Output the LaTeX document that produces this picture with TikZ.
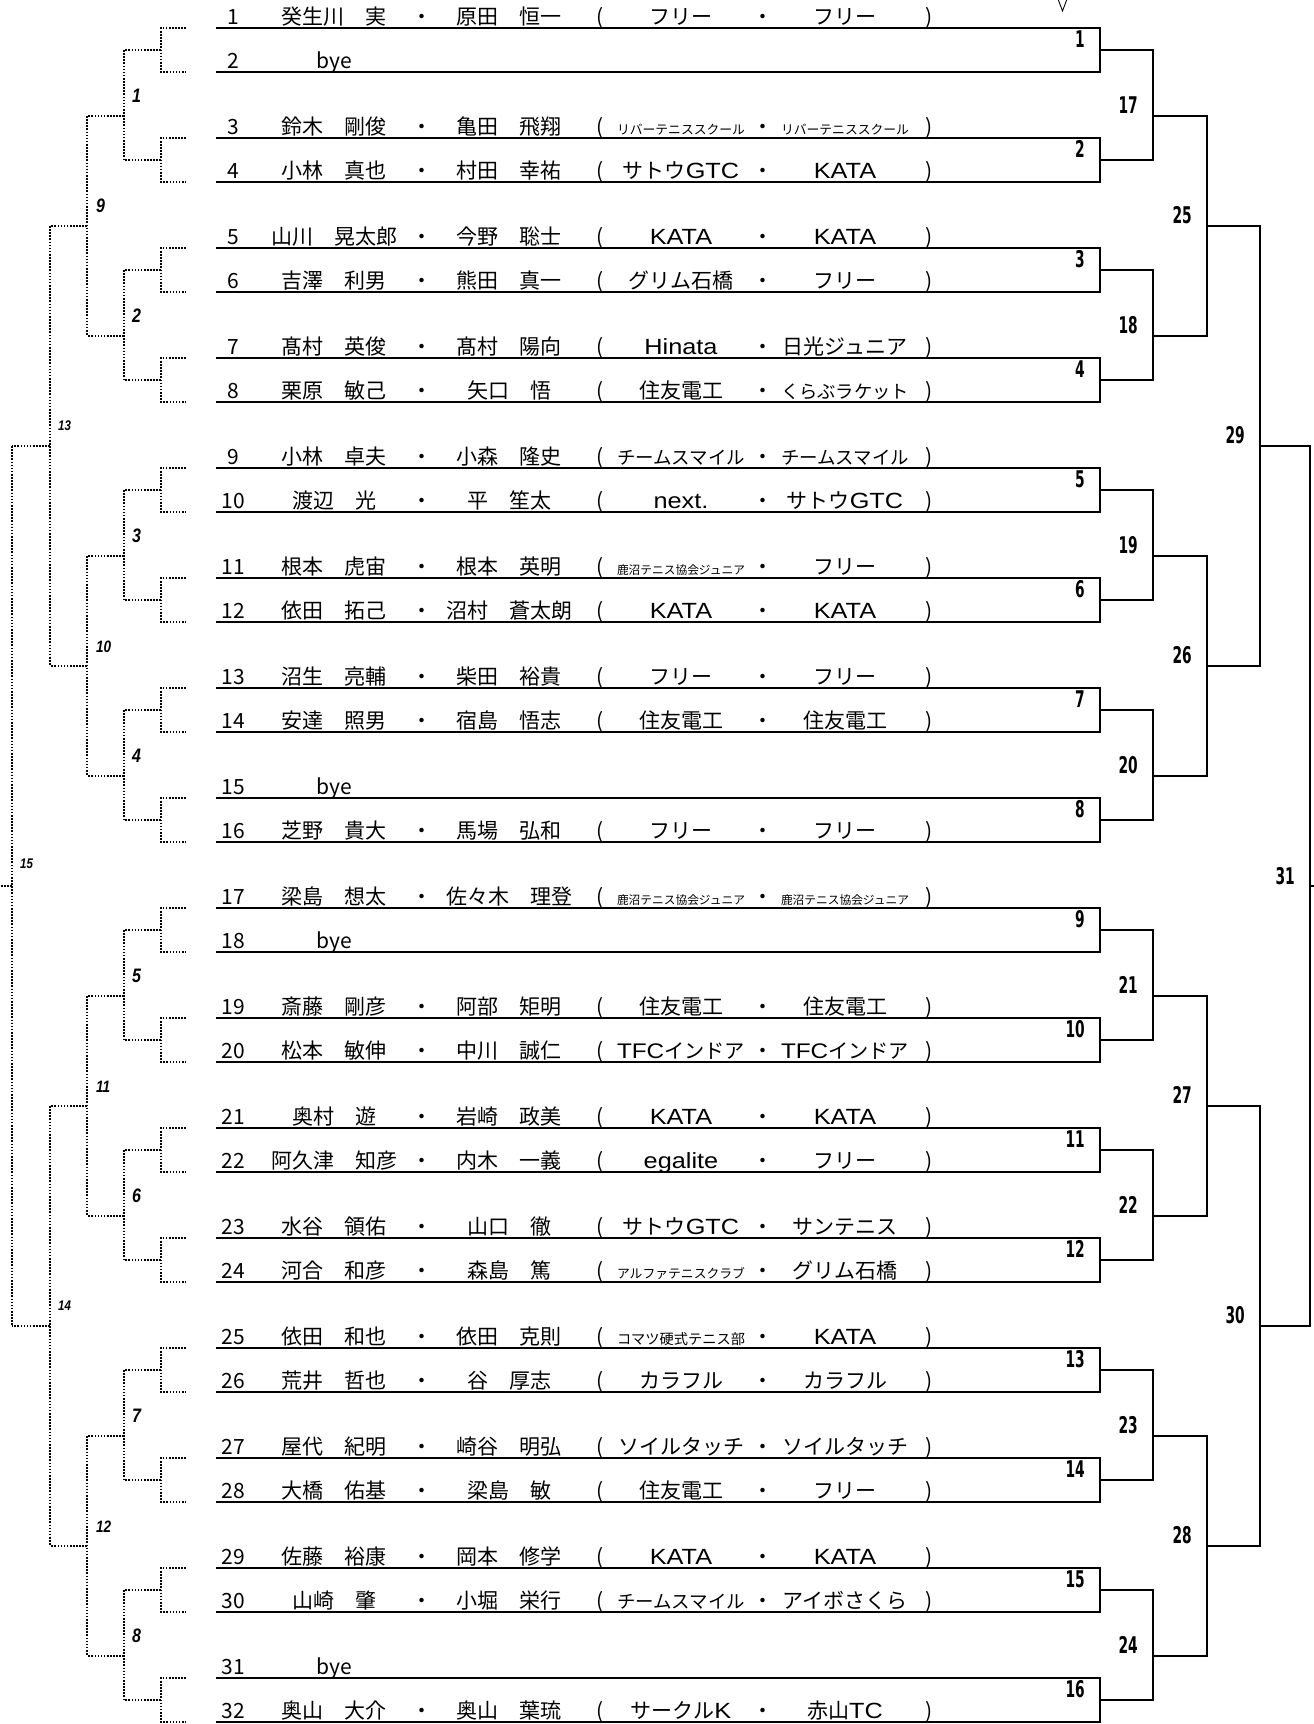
\documentclass[tikz,border=0pt]{standalone}
\usepackage{fontspec}
\setmainfont{Noto Sans CJK JP}
\newfontfamily\rdfont{DejaVu Sans}
\newfontfamily\lbfont{Liberation Sans}
\newfontfamily\latf{Liberation Sans}
\newcommand\lat[1]{{\latf\fontsize{22}{25}\selectfont\scalebox{1.15}[1]{#1}}}
\newlength\clubw
\newcommand\club[1]{\settowidth\clubw{#1}\ifdim\clubw>128pt\relax\resizebox{128pt}{!}{#1}\else#1\fi}
\tikzset{
  rt/.style={anchor=base, inner sep=0pt, font=\fontsize{21}{25}\selectfont},
  brk/.style={line width=2.5pt, line cap=rect},
  dotln/.style={line width=1.6pt, dash pattern=on 1.6pt off 1.5pt},
  rlab/.style={anchor=base east, inner sep=0pt, font=\rdfont\bfseries\fontsize{23}{23}\selectfont},
  llab/.style={anchor=base west, inner sep=0pt, font=\lbfont\bfseries\itshape}
}
\newcommand\prow[5]{%
  \pgfmathsetmacro\yy{28+22*(5*floor((#1-1)/2)+2*mod(#1-1,2))-4}%
  \node[rt] (num#1) at (233,\yy) {#1};
  \node[rt] (na#1) at (334,\yy) {#2};
  \node[rt] (da#1) at (421.5,\yy) {・};
  \node[rt] (nb#1) at (509,\yy) {#3};
  \node[rt] (lp#1) at (600,\yy) {(};
  \node[rt] (ca#1) at (681,\yy) {\club{#4}};
  \node[rt] (db#1) at (763,\yy) {・};
  \node[rt] (cb#1) at (845,\yy) {\club{#5}};
  \node[rt] (rp#1) at (929,\yy) {)};
}
\newcommand\byerow[1]{%
  \pgfmathsetmacro\yy{28+22*(5*floor((#1-1)/2)+2*mod(#1-1,2))-4}%
  \node[rt] (num#1) at (233,\yy) {#1};
  \node[rt] (na#1) at (334,\yy) {bye};
}
\begin{document}
\begin{tikzpicture}[x=1pt,y=-1pt]
\useasboundingbox (0,0) rectangle (1314,1724);
% ---------- first round: boxes (right) and dotted stubs (left)
\foreach \k in {1,...,16}{
  \pgfmathsetmacro\ya{28+110*(\k-1)}
  \pgfmathsetmacro\yb{\ya+44}
  \pgfmathsetmacro\ym{\ya+22}
  \draw[brk] (217,\ya) -- (1100,\ya) -- (1100,\yb) -- (217,\yb);
  \draw[brk] (1100,\ym) -- (1153,\ym);
  \node[rlab] (r1l\k) at (1085,\ym-3) {\scalebox{0.6}[1]{\k}};
  \draw[dotln] (186,\ya) -- (161,\ya) -- (161,\yb) -- (186,\yb);
  \draw[dotln] (161,\ym) -- (124,\ym);
}
% ---------- second round
\foreach \g in {1,...,8}{
  \pgfmathsetmacro\ta{50+220*(\g-1)}
  \pgfmathsetmacro\tb{\ta+110}
  \pgfmathsetmacro\to{\ta+66}
  \pgfmathtruncatemacro\lab{16+\g}
  \draw[brk] (1153,\ta) -- (1153,\tb);
  \draw[brk] (1153,\to) -- (1207,\to);
  \node[rlab] (r2l\g) at (1138,\to-3) {\scalebox{0.6}[1]{\lab}};
  \draw[dotln] (124,\ta) -- (124,\tb);
  \draw[dotln] (124,\to) -- (87,\to);
  \node[llab] (l2l\g) at (132,\to-14) {\fontsize{19.5}{20}\selectfont\scalebox{0.82}[1]{\g}};
}
% ---------- third round
\foreach \h in {1,...,4}{
  \pgfmathsetmacro\ta{116+440*(\h-1)}
  \pgfmathsetmacro\tb{\ta+220}
  \pgfmathsetmacro\to{\ta+110}
  \pgfmathtruncatemacro\lab{24+\h}
  \pgfmathtruncatemacro\labl{8+\h}
  \draw[brk] (1207,\ta) -- (1207,\tb);
  \draw[brk] (1207,\to) -- (1260,\to);
  \node[rlab] (r3l\h) at (1192,\to-3) {\scalebox{0.6}[1]{\lab}};
  \draw[dotln] (87,\ta) -- (87,\tb);
  \draw[dotln] (87,\to) -- (50,\to);
  \ifnum\labl=9
    \node[llab] (l3l\h) at (96,\to-14) {\fontsize{19.5}{20}\selectfont\scalebox{0.82}[1]{\labl}};
  \else
    \node[llab] (l3l\h) at (96,\to-14) {\fontsize{16.5}{17}\selectfont\scalebox{0.82}[1]{\labl}};
  \fi
}
% ---------- fourth round
\foreach \m in {1,2}{
  \pgfmathsetmacro\ta{226+880*(\m-1)}
  \pgfmathsetmacro\tb{\ta+440}
  \pgfmathsetmacro\to{\ta+220}
  \pgfmathtruncatemacro\lab{28+\m}
  \pgfmathtruncatemacro\labl{12+\m}
  \draw[brk] (1260,\ta) -- (1260,\tb);
  \draw[brk] (1260,\to) -- (1310,\to);
  \node[rlab] (r4l\m) at (1245,\to-3) {\scalebox{0.6}[1]{\lab}};
  \draw[dotln] (50,\ta) -- (50,\tb);
  \draw[dotln] (50,\to) -- (12,\to);
  \node[llab] (l4l\m) at (58,\to-16) {\fontsize{14}{15}\selectfont\scalebox{0.82}[1]{\labl}};
}
% ---------- final
\draw[brk] (1310,446) -- (1310,1326);
\draw[brk] (1310,886) -- (1314,886);
\node[rlab] (r5l) at (1295,884) {\scalebox{0.6}[1]{31}};
\draw[dotln] (12,446) -- (12,1326);
\draw[dotln] (12,886) -- (0,886);
\node[llab] (l5l) at (20,868) {\fontsize{14}{15}\selectfont\scalebox{0.82}[1]{15}};
% ---------- partial mark at top
\draw[line width=0.9pt] (1058,-1) -- (1062.5,11) -- (1067,-1);
% ---------- entries
\prow{1}{癸生川　実}{原田　恒一}{フリー}{フリー}
\byerow{2}
\prow{3}{鈴木　剛俊}{亀田　飛翔}{リバーテニススクール}{リバーテニススクール}
\prow{4}{小林　真也}{村田　幸祐}{サトウ\lat{GTC}}{\lat{KATA}}
\prow{5}{山川　晃太郎}{今野　聡士}{\lat{KATA}}{\lat{KATA}}
\prow{6}{吉澤　利男}{熊田　真一}{グリム石橋}{フリー}
\prow{7}{髙村　英俊}{髙村　陽向}{\lat{Hinata}}{日光ジュニア}
\prow{8}{栗原　敏己}{矢口　悟}{住友電工}{くらぶラケット}
\prow{9}{小林　卓夫}{小森　隆史}{チームスマイル}{チームスマイル}
\prow{10}{渡辺　光}{平　笙太}{\lat{next.}}{サトウ\lat{GTC}}
\prow{11}{根本　虎宙}{根本　英明}{鹿沼テニス協会ジュニア}{フリー}
\prow{12}{依田　拓己}{沼村　蒼太朗}{\lat{KATA}}{\lat{KATA}}
\prow{13}{沼生　亮輔}{柴田　裕貴}{フリー}{フリー}
\prow{14}{安達　照男}{宿島　悟志}{住友電工}{住友電工}
\byerow{15}
\prow{16}{芝野　貴大}{馬場　弘和}{フリー}{フリー}
\prow{17}{梁島　想太}{佐々木　理登}{鹿沼テニス協会ジュニア}{鹿沼テニス協会ジュニア}
\byerow{18}
\prow{19}{斎藤　剛彦}{阿部　矩明}{住友電工}{住友電工}
\prow{20}{松本　敏伸}{中川　誠仁}{\lat{TFC}インドア}{\lat{TFC}インドア}
\prow{21}{奥村　遊}{岩崎　政美}{\lat{KATA}}{\lat{KATA}}
\prow{22}{阿久津　知彦}{内木　一義}{\lat{egalite}}{フリー}
\prow{23}{水谷　領佑}{山口　徹}{サトウ\lat{GTC}}{サンテニス}
\prow{24}{河合　和彦}{森島　篤}{アルファテニスクラブ}{グリム石橋}
\prow{25}{依田　和也}{依田　克則}{コマツ硬式テニス部}{\lat{KATA}}
\prow{26}{荒井　哲也}{谷　厚志}{カラフル}{カラフル}
\prow{27}{屋代　紀明}{崎谷　明弘}{ソイルタッチ}{ソイルタッチ}
\prow{28}{大橋　佑基}{梁島　敏}{住友電工}{フリー}
\prow{29}{佐藤　裕康}{岡本　修学}{\lat{KATA}}{\lat{KATA}}
\prow{30}{山崎　肇}{小堀　栄行}{チームスマイル}{アイボさくら}
\byerow{31}
\prow{32}{奥山　大介}{奥山　葉琉}{サークル\lat{K}}{赤山\lat{TC}}
\end{tikzpicture}
\end{document}
